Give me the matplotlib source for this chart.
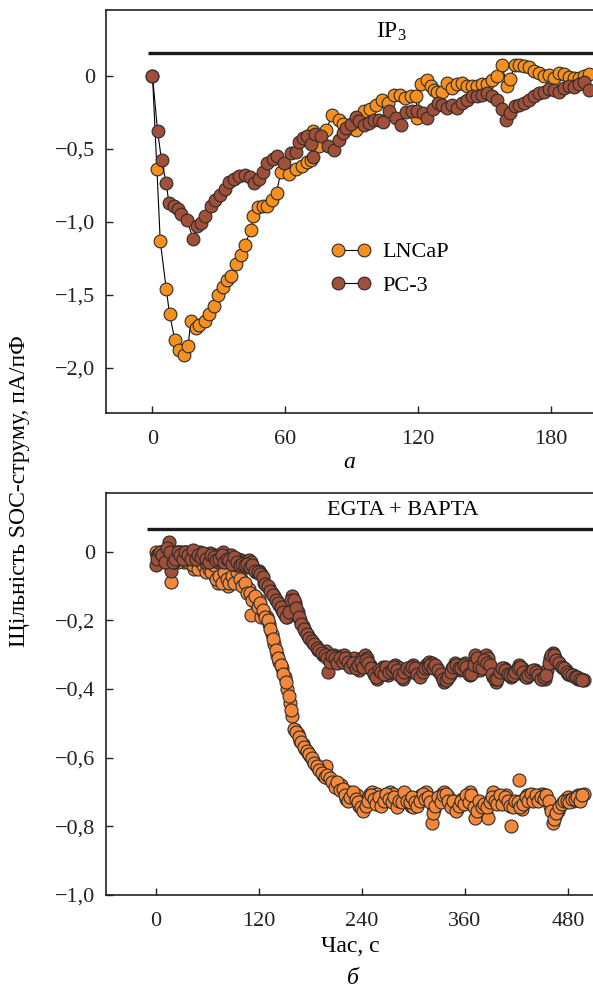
import numpy as np
import matplotlib
matplotlib.use("Agg")
import matplotlib.pyplot as plt

plt.rcParams['font.family'] = ['Liberation Serif', 'DejaVu Serif']
plt.rcParams['mathtext.fontset'] = 'custom'
plt.rcParams['mathtext.rm'] = 'Liberation Serif'
plt.rcParams['mathtext.it'] = 'Liberation Serif:italic'

# ---------------- Panel a (IP3) ----------------
lncap_a_t = [0, 2.0, 3.5, 6.2, 7.7, 10.1, 11.9, 14.3, 16.1, 17.3, 19.7, 21.2, 23.9, 25.4, 27.8,
             29.6, 31.7, 33.5, 35.6, 37.7, 40.2, 41.7, 44.4, 45.6, 47.7, 49.8, 51.9, 54.0, 56.1,
             57.9, 61.8, 64.8, 67.5, 69.6, 71.5, 72.3, 75.3, 78.4, 81.3, 84.1, 86.2, 89.0, 91.9,
             95.6, 98.2, 100.9, 103.9, 106.2, 109.2, 111.7, 114.1, 116.7, 119.0, 119.7, 121.2,
             123.8, 125.7, 127.2, 128.6, 130.8, 133.1, 135.3, 137.6, 139.8, 142.1, 144.4, 146.6,
             148.9, 151.1, 153.4, 155.6, 157.9, 160.2, 161.7, 163.6, 165.7, 167.7, 169.9, 172.2,
             174.4, 176.7, 179.0, 181.2, 183.5, 185.7, 188.0, 190.2, 192.5, 194.8, 197.0]
lncap_a_v = [0, -0.64, -1.13, -1.46, -1.63, -1.81, -1.88, -1.91, -1.85, -1.68, -1.73, -1.71, -1.68,
             -1.63, -1.58, -1.50, -1.45, -1.40, -1.37, -1.29, -1.23, -1.16, -1.06, -0.96, -0.90,
             -0.89, -0.895, -0.85, -0.80, -0.66, -0.67, -0.64, -0.62, -0.59, -0.575, -0.38, -0.48,
             -0.37, -0.27, -0.30, -0.33, -0.36, -0.37, -0.245, -0.23, -0.20, -0.165, -0.19, -0.13,
             -0.13, -0.15, -0.14, -0.14, -0.29, -0.06, -0.03, -0.07, -0.10, -0.11, -0.11, -0.05,
             -0.085, -0.06, -0.05, -0.07, -0.07, -0.07, -0.06, -0.06, -0.03, 0.0, 0.07, -0.07,
             -0.02, 0.075, 0.07, 0.065, 0.06, 0.03, 0.02, 0.0, 0.007, -0.016, 0.02, 0.014, -0.01,
             -0.016, -0.016, 0.0, 0.014]

pc3_a_t = [0, 2.3, 4.1, 6.2, 7.4, 9.5, 11.6, 13.1, 15.5, 18.5, 20.0, 21.8, 23.9, 26.3, 28.1, 30.5,
           32.6, 34.7, 36.8, 39.2, 41.7, 44.1, 45.9, 48.0, 49.8, 51.9, 54.3, 56.4, 59.5, 62.6,
           64.8, 66.3, 68.1, 69.9, 71.5, 72.3, 73.5, 76.1, 79.1, 82.1, 84.4, 86.0, 87.4, 89.5,
           91.9, 93.4, 95.6, 97.9, 100.2, 102.4, 104.2, 106.9, 109.9, 112.2, 114.7, 117.2, 119.7,
           122.0, 124.2, 126.5, 128.9, 131.0, 133.1, 135.3, 137.6, 139.8, 142.1, 144.4, 146.6,
           148.9, 151.1, 153.4, 155.6, 157.9, 159.7, 161.7, 163.6, 165.7, 167.7, 169.9, 172.2,
           174.4, 176.7, 179.0, 181.2, 183.5, 185.7, 188.0, 190.2, 192.5, 194.8, 197.0]
pc3_a_v = [0, -0.38, -0.58, -0.735, -0.87, -0.89, -0.91, -0.95, -0.99, -1.12, -1.03, -1.01, -0.96,
           -0.895, -0.85, -0.815, -0.775, -0.725, -0.71, -0.69, -0.68, -0.695, -0.735, -0.71,
           -0.66, -0.595, -0.57, -0.55, -0.60, -0.53, -0.525, -0.457, -0.427, -0.41, -0.47, -0.56,
           -0.40, -0.415, -0.48, -0.51, -0.44, -0.39, -0.36, -0.33, -0.28, -0.31, -0.335, -0.325,
           -0.306, -0.30, -0.32, -0.245, -0.29, -0.34, -0.25, -0.24, -0.245, -0.256, -0.29, -0.23,
           -0.185, -0.20, -0.22, -0.20, -0.22, -0.19, -0.165, -0.14, -0.14, -0.13, -0.12, -0.14,
           -0.165, -0.23, -0.30, -0.255, -0.21, -0.20, -0.19, -0.165, -0.14, -0.12, -0.11, -0.09,
           -0.095, -0.11, -0.085, -0.07, -0.08, -0.06, -0.045, -0.095]

# ---------------- Panel b (EGTA + BAPTA) ----------------
# samples at t = 0, 3, 6, ... 498 s
t_b = list(range(0, 499, 3))
lncap_b_v = [-0.00, -0.02, 0.00, -0.01, -0.03, -0.02, -0.088, -0.01, -0.00, -0.02, -0.01, -0.03,
             -0.00, -0.02, -0.01, -0.05, -0.03, -0.02, -0.01, -0.05, -0.04, -0.03, -0.05, -0.07,
             -0.09, -0.06, -0.08, -0.07, -0.10, -0.06, -0.07, -0.08, -0.07, -0.08, -0.09, -0.10,
             -0.11, -0.185, -0.13, -0.15, -0.14, -0.19, -0.18, -0.19, -0.21, -0.24, -0.27, -0.30,
             -0.32, -0.34, -0.365, -0.40, -0.44, -0.48, -0.52, -0.53, -0.55, -0.56, -0.575, -0.585,
             -0.595, -0.61, -0.62, -0.63, -0.64, -0.65, -0.625, -0.66, -0.665, -0.675, -0.68, -0.69,
             -0.68, -0.70, -0.72, -0.70, -0.71, -0.705, -0.71, -0.74, -0.75, -0.73, -0.72, -0.705,
             -0.70, -0.71, -0.705, -0.73, -0.72, -0.71, -0.715, -0.70, -0.705, -0.73, -0.735, -0.72,
             -0.715, -0.71, -0.72, -0.74, -0.745, -0.72, -0.715, -0.71, -0.705, -0.70, -0.72, -0.79,
             -0.75, -0.73, -0.72, -0.705, -0.70, -0.71, -0.72, -0.735, -0.745, -0.75, -0.73, -0.72,
             -0.72, -0.715, -0.70, -0.72, -0.775, -0.74, -0.735, -0.75, -0.76, -0.775, -0.72, -0.70,
             -0.715, -0.72, -0.725, -0.72, -0.71, -0.73, -0.80, -0.735, -0.74, -0.665, -0.75, -0.72,
             -0.71, -0.715, -0.71, -0.72, -0.715, -0.71, -0.705, -0.71, -0.72, -0.74, -0.79, -0.77,
             -0.755, -0.74, -0.73, -0.72, -0.715, -0.72, -0.725, -0.715, -0.71, -0.71, -0.705]
pc3_b_v = [-0.04, -0.01, 0.00, -0.02, 0.005, 0.028, -0.055, -0.03, -0.01, 0.00, -0.01, 0.00,
           -0.02, -0.005, 0.00, -0.01, -0.005, 0.00, -0.02, -0.03, -0.01, -0.005, -0.02, -0.01,
           -0.03, -0.02, -0.00, -0.015, -0.03, -0.01, -0.02, -0.04, -0.02, -0.025, -0.03, -0.045,
           -0.025, -0.03, -0.05, -0.06, -0.055, -0.065, -0.09, -0.10, -0.105, -0.12, -0.13, -0.145,
           -0.155, -0.17, -0.185, -0.19, -0.16, -0.13, -0.15, -0.175, -0.20, -0.215, -0.23, -0.245,
           -0.255, -0.265, -0.275, -0.285, -0.29, -0.30, -0.29, -0.35, -0.31, -0.30, -0.315, -0.32,
           -0.305, -0.30, -0.325, -0.33, -0.315, -0.31, -0.335, -0.345, -0.31, -0.30, -0.31, -0.33,
           -0.345, -0.36, -0.37, -0.35, -0.335, -0.345, -0.36, -0.35, -0.34, -0.33, -0.335, -0.355,
           -0.37, -0.355, -0.345, -0.335, -0.33, -0.345, -0.36, -0.355, -0.345, -0.33, -0.32, -0.325,
           -0.335, -0.34, -0.35, -0.365, -0.38, -0.37, -0.36, -0.34, -0.325, -0.335, -0.345, -0.335,
           -0.325, -0.345, -0.36, -0.35, -0.30, -0.32, -0.345, -0.33, -0.30, -0.31, -0.345, -0.365,
           -0.38, -0.355, -0.345, -0.34, -0.345, -0.36, -0.365, -0.355, -0.345, -0.33, -0.34, -0.36,
           -0.365, -0.355, -0.35, -0.345, -0.355, -0.365, -0.37, -0.37, -0.345, -0.31, -0.295,
           -0.31, -0.32, -0.33, -0.34, -0.345, -0.355, -0.36, -0.36, -0.365, -0.37, -0.37, -0.375]
# intermediate samples at t = 1.5, 4.5, ... 496.5 s
t_b2 = [1.5 + 3 * k for k in range(166)]
lncap_b_v2 = [-0.01, -0.03, -0.01, 0.00, -0.02, -0.04, -0.02, -0.01, -0.03, 0.00, -0.02, -0.01,
              -0.03, -0.02, -0.04, -0.02, -0.05, -0.03, -0.04, -0.06, -0.05, -0.06, -0.04, -0.08,
              -0.07, -0.09, -0.06, -0.08, -0.09, -0.07, -0.09, -0.06, -0.08,
              -0.10, -0.09, -0.12, -0.12, -0.14, -0.13, -0.16, -0.15, -0.17, -0.19,
              -0.20, -0.225, -0.255, -0.285, -0.31, -0.33, -0.355, -0.38, -0.42, -0.46,
              -0.515, -0.525, -0.54, -0.555, -0.57, -0.58, -0.59, -0.60, -0.615, -0.625,
              -0.635, -0.645, -0.655, -0.65, -0.66, -0.67, -0.685, -0.67, -0.695, -0.69,
              -0.71, -0.725, -0.715, -0.70, -0.72, -0.73, -0.745, -0.755, -0.74,
              -0.725, -0.71, -0.72, -0.735, -0.715, -0.74, -0.725, -0.705, -0.72, -0.73,
              -0.715, -0.745, -0.725, -0.73, -0.70, -0.725, -0.73, -0.715, -0.73, -0.74,
              -0.725, -0.705, -0.72, -0.715, -0.73, -0.76, -0.74, -0.715, -0.73, -0.71,
              -0.705, -0.725, -0.745, -0.725, -0.755, -0.74, -0.725, -0.735, -0.71, -0.73,
              -0.71, -0.745, -0.755, -0.725, -0.745, -0.735, -0.745, -0.73, -0.715, -0.725,
              -0.735, -0.71, -0.735, -0.715, -0.725, -0.74, -0.745, -0.725, -0.73, -0.745,
              -0.735, -0.715, -0.725, -0.705, -0.725, -0.71, -0.725, -0.715, -0.72, -0.71,
              -0.725, -0.755, -0.78, -0.76, -0.745, -0.735, -0.725, -0.725, -0.73, -0.72,
              -0.72, -0.715, -0.725, -0.71]
pc3_b_v2 = [-0.02, 0.00, -0.01, -0.03, 0.01, 0.00, -0.03, -0.02, 0.00, -0.01, -0.02, 0.00,
            -0.01, -0.02, 0.005, -0.02, -0.01, -0.015, -0.005, -0.02, -0.03, -0.01, -0.015,
            -0.025, -0.02, -0.01, -0.03, -0.02, -0.025, -0.035, -0.015, -0.03, -0.04,
            -0.035, -0.04, -0.035, -0.045, -0.04, -0.055, -0.06, -0.065, -0.075, -0.095,
            -0.10, -0.115, -0.125, -0.14, -0.15, -0.16, -0.175, -0.19, -0.175, -0.14,
            -0.14, -0.165, -0.19, -0.21, -0.225, -0.24, -0.25, -0.26, -0.27, -0.28,
            -0.285, -0.295, -0.30, -0.31, -0.32, -0.305, -0.31, -0.325, -0.31, -0.32,
            -0.31, -0.32, -0.335, -0.325, -0.34, -0.33, -0.32, -0.335, -0.315,
            -0.325, -0.34, -0.355, -0.365, -0.345, -0.35, -0.355, -0.335, -0.35, -0.345,
            -0.335, -0.345, -0.36, -0.365, -0.35, -0.34, -0.345, -0.335, -0.34, -0.355,
            -0.365, -0.35, -0.34, -0.335, -0.33, -0.34, -0.33, -0.345, -0.355, -0.37,
            -0.375, -0.365, -0.35, -0.335, -0.33, -0.34, -0.34, -0.33, -0.335, -0.355,
            -0.355, -0.33, -0.31, -0.335, -0.34, -0.315, -0.325, -0.33, -0.355, -0.37,
            -0.37, -0.35, -0.34, -0.345, -0.355, -0.36, -0.36, -0.35, -0.34, -0.335,
            -0.35, -0.365, -0.36, -0.35, -0.345, -0.35, -0.36, -0.37, -0.365, -0.36,
            -0.325, -0.30, -0.30, -0.315, -0.325, -0.335, -0.34, -0.35, -0.355, -0.36,
            -0.365, -0.365, -0.37, -0.375]

a_yticks = [0, -0.5, -1.0, -1.5, -2.0]
a_yticklabels = ['0', '\u22120,5', '\u22121,0', '\u22121,5', '\u22122,0']
a_xticks = [0, 60, 120, 180]
b_yticks = [0, -0.2, -0.4, -0.6, -0.8, -1.0]
b_yticklabels = ['0', '\u22120,2', '\u22120,4', '\u22120,6', '\u22120,8', '\u22121,0']
b_xticks = [0, 120, 240, 360, 480]

ORANGE = '#F7901E'
BROWN = '#A04F38'
ORANGE_B = '#F5873A'
EDGE = '#2b2b2b'
FS = 16

fig = plt.figure(figsize=(5.93, 9.90), dpi=100)
ax1 = fig.add_axes([106/593, 1 - 413/990, 1 - 106/593, (413 - 10)/990])
ax2 = fig.add_axes([106/593, 1 - 895/990, 1 - 106/593, (895 - 493)/990])

mk = dict(marker='o', markersize=9.2, markeredgecolor=EDGE, markeredgewidth=0.8,
          color='black', linewidth=0.8)
l1, = ax1.plot(lncap_a_t, lncap_a_v, markerfacecolor=ORANGE, label='LNCaP', **mk)
l2, = ax1.plot(pc3_a_t, pc3_a_v, markerfacecolor=BROWN, label='PC-3', **mk)

ax1.set_xlim(-21, 199)
ax1.set_ylim(-2.31, 0.45)
ax1.plot([-2, 205], [0.157, 0.157], color='#1a1a1a', linewidth=2.4, solid_capstyle='butt')
ax1.text(108, 0.30, r'IP$_\mathrm{3}$', fontsize=FS + 1, ha='center', va='center')
ax1.legend(handles=[l1, l2], loc='upper left', bbox_to_anchor=(0.462, 0.425),
           frameon=False, fontsize=FS, handlelength=1.8, handletextpad=0.5,
           labelspacing=0.6, borderpad=0, borderaxespad=0, numpoints=2)

ax2.scatter(t_b + t_b2, lncap_b_v + lncap_b_v2, s=88, facecolor=ORANGE_B, edgecolor=EDGE,
            linewidth=0.8, zorder=2)
ax2.scatter(t_b + t_b2, pc3_b_v + pc3_b_v2, s=88, facecolor=BROWN, edgecolor=EDGE,
            linewidth=0.8, zorder=3)
ax2.set_xlim(-58, 509)
ax2.set_ylim(-1.0, 0.171)
ax2.plot([-10, 520], [0.066, 0.066], color='#1a1a1a', linewidth=2.4, solid_capstyle='butt')
ax2.text(288, 0.12, 'EGTA + BAPTA', fontsize=FS, ha='center', va='center')

for ax, xt, yt, ytl in [(ax1, a_xticks, a_yticks, a_yticklabels),
                        (ax2, b_xticks, b_yticks, b_yticklabels)]:
    ax.set_xticks(xt)
    ax.set_xticklabels([str(v) for v in xt])
    ax.set_yticks(yt)
    ax.set_yticklabels(ytl)
    ax.tick_params(direction='in', length=5, width=1.0, labelsize=FS, pad=8,
                   top=False, right=False, colors='#222222')
    ax.tick_params(axis='x', pad=12)
    ax.spines['right'].set_visible(False)
    for s in ['left', 'bottom', 'top']:
        ax.spines[s].set_linewidth(1.2)
        ax.spines[s].set_color('#222222')

fig.text(349/593, 1 - 463/990, '\u0430', fontsize=FS + 1, style='italic', ha='center', va='center')
fig.text(350/593, 1 - 947/990, '\u0427\u0430\u0441, \u0441', fontsize=FS + 1, ha='center', va='center')
fig.text(353/593, 1 - 978/990, '\u0431', fontsize=FS + 1, style='italic', ha='center', va='center')
fig.text(20/593, 1 - 491/990, '\u0429\u0456\u043b\u044c\u043d\u0456\u0441\u0442\u044c SOC-\u0441\u0442\u0440\u0443\u043c\u0443, \u043f\u0410/\u043f\u0424',
         fontsize=FS + 1, rotation=90, ha='center', va='center')

fig.savefig('out.png', dpi=100)
